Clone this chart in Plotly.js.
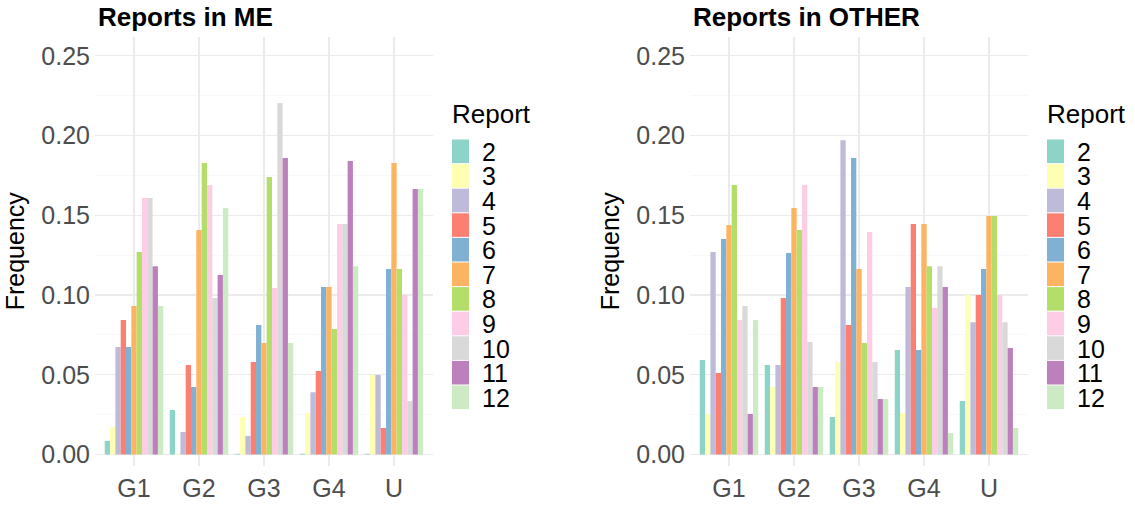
<!DOCTYPE html>
<html>
<head>
<meta charset="utf-8">
<script src="https://cdn.plot.ly/plotly-3.0.1.min.js"></script>
<style>html,body{margin:0;padding:0;background:#fff;}#chart{width:1135px;height:508px;}</style>
</head>
<body>
<div id="chart"></div>
<script>
// Categories and series
const groups = ["G1", "G2", "G3", "G4", "U"];
const reports = ["2", "3", "4", "5", "6", "7", "8", "9", "10", "11", "12"];
const colors = ["#8DD3C7", "#FFFFB3", "#BEBADA", "#FB8072", "#80B1D3", "#FDB462", "#B3DE69", "#FCCDE5", "#D9D9D9", "#BC80BD", "#CCEBC5"];

// Reports in ME: one array per report, values for G1, G2, G3, G4, U
const me_r2  = [0.0085, 0.0279, 0.0005, 0.0005, 0.0005];
const me_r3  = [0.0172, 0.0005, 0.0235, 0.0260, 0.0498];
const me_r4  = [0.0674, 0.0141, 0.0116, 0.0390, 0.0498];
const me_r5  = [0.0843, 0.0561, 0.0580, 0.0524, 0.0166];
const me_r6  = [0.0674, 0.0423, 0.0812, 0.1050, 0.1163];
const me_r7  = [0.0931, 0.1407, 0.0699, 0.1050, 0.1828];
const me_r8  = [0.1270, 0.1828, 0.1740, 0.0787, 0.1163];
const me_r9  = [0.1608, 0.1690, 0.1044, 0.1445, 0.1000];
const me_r10 = [0.1608, 0.0981, 0.2204, 0.1445, 0.0335];
const me_r11 = [0.1180, 0.1125, 0.1860, 0.1840, 0.1665];
const me_r12 = [0.0931, 0.1545, 0.0699, 0.1180, 0.1665];

// Reports in OTHER
const ot_r2  = [0.0592, 0.0561, 0.0235, 0.0655, 0.0335];
const ot_r3  = [0.0254, 0.0423, 0.0580, 0.0260, 0.1000];
const ot_r4  = [0.1270, 0.0561, 0.1970, 0.1050, 0.0830];
const ot_r5  = [0.0511, 0.0981, 0.0812, 0.1445, 0.1000];
const ot_r6  = [0.1351, 0.1263, 0.1860, 0.0655, 0.1163];
const ot_r7  = [0.1439, 0.1545, 0.1163, 0.1445, 0.1495];
const ot_r8  = [0.1690, 0.1407, 0.0699, 0.1180, 0.1495];
const ot_r9  = [0.0843, 0.1690, 0.1395, 0.0920, 0.1000];
const ot_r10 = [0.0931, 0.0705, 0.0580, 0.1180, 0.0830];
const ot_r11 = [0.0254, 0.0423, 0.0348, 0.1050, 0.0668];
const ot_r12 = [0.0843, 0.0423, 0.0348, 0.0135, 0.0166];

const meSeries = [me_r2, me_r3, me_r4, me_r5, me_r6, me_r7, me_r8, me_r9, me_r10, me_r11, me_r12];
const otSeries = [ot_r2, ot_r3, ot_r4, ot_r5, ot_r6, ot_r7, ot_r8, ot_r9, ot_r10, ot_r11, ot_r12];

const W = 1135, H = 508;
const FONT = "Liberation Sans, Arial, sans-serif";
const traces = [];
reports.forEach((r, i) => {
  traces.push({type: "bar", name: r, x: groups, y: meSeries[i], xaxis: "x", yaxis: "y",
    marker: {color: colors[i], line: {width: 0}}, offsetgroup: r, showlegend: false,
    hovertemplate: "Report " + r + "<br>%{x}: %{y}<extra>ME</extra>"});
  traces.push({type: "bar", name: r, x: groups, y: otSeries[i], xaxis: "x2", yaxis: "y2",
    marker: {color: colors[i], line: {width: 0}}, offsetgroup: r, showlegend: false,
    hovertemplate: "Report " + r + "<br>%{x}: %{y}<extra>OTHER</extra>"});
});

const px = v => v / W;
const py = v => 1 - v / H;
const yRange = [-0.0069, 0.2618];
const yDomain = [py(465.5), py(37)];

function yax(anchor) {
  return {
    anchor: anchor, domain: yDomain, range: yRange, dtick: 0.05, tick0: 0, tickformat: ".2f",
    showgrid: true, gridcolor: "#EBEBEB", gridwidth: 1.1, zeroline: true, zerolinecolor: "#EBEBEB", zerolinewidth: 1.1,
    minor: {dtick: 0.025, showgrid: true, gridcolor: "#F4F4F4", gridwidth: 0.6},
    showline: false, ticks: "", ticklabelstandoff: 4,
    tickfont: {family: FONT, size: 25, color: "#4D4D4D"},
    title: {text: "Frequency", font: {family: FONT, size: 25, color: "#000"}, standoff: 9},
    automargin: false, fixedrange: true
  };
}
function xax(domain, anchor) {
  return {
    anchor: anchor, domain: domain, type: "category", range: [-0.6, 4.6],
    showgrid: true, gridcolor: "#EBEBEB", gridwidth: 1.1, zeroline: false, showline: false,
    ticks: "", ticklabelstandoff: 5,
    tickfont: {family: FONT, size: 25, color: "#4D4D4D"}, automargin: false, fixedrange: true
  };
}

const annotations = [];
const shapes = [];
function addPanelText(offset, title) {
  annotations.push({xref: "paper", yref: "paper", x: px(96 + offset), y: py(17), xanchor: "left", yanchor: "middle",
    text: title, showarrow: false, font: {family: FONT, size: 26, color: "#000", weight: "bold"}});
  annotations.push({xref: "paper", yref: "paper", x: px(450 + offset), y: py(114), xanchor: "left", yanchor: "middle",
    text: "Report", showarrow: false, font: {family: FONT, size: 26, color: "#000"}});
  const top = 139, step = 24.6;
  reports.forEach((r, i) => {
    const y0 = top + step * i;
    shapes.push({type: "rect", xref: "paper", yref: "paper", x0: px(452 + offset), x1: px(469 + offset),
      y0: py(y0 + 0.5), y1: py(y0 + step - 0.5), fillcolor: colors[i], line: {width: 0}, layer: "above"});
    annotations.push({xref: "paper", yref: "paper", x: px(481 + offset), y: py(y0 + step / 2 + 0.5), xanchor: "left", yanchor: "middle",
      height: 22, borderpad: 0, valign: "middle",
      text: r, showarrow: false, font: {family: FONT, size: 25, color: "#000"}});
  });
}
addPanelText(0, "Reports in ME");
addPanelText(595, "Reports in OTHER");

const layout = {
  width: W, height: H, margin: {l: 0, r: 0, t: 0, b: 0},
  paper_bgcolor: "#fff", plot_bgcolor: "#fff",
  barmode: "group", bargap: 0.1, bargroupgap: 0,
  showlegend: false,
  font: {family: FONT},
  xaxis: xax([px(95), px(433)], "y"),
  yaxis: yax("x"),
  xaxis2: xax([px(690), px(1028)], "y2"),
  yaxis2: yax("x2"),
  annotations: annotations,
  shapes: shapes
};

Plotly.newPlot("chart", traces, layout, {displayModeBar: false, staticPlot: true});
</script>
</body>
</html>
